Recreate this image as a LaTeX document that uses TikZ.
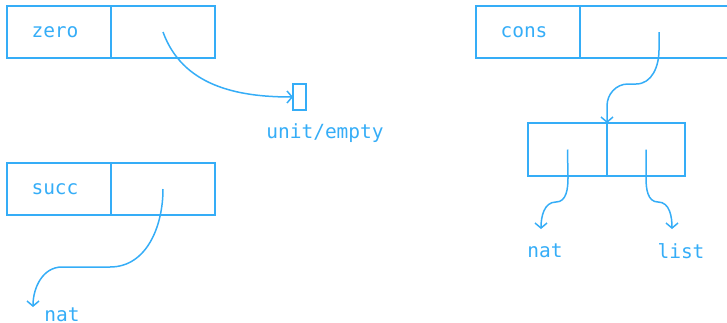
\documentclass[tikz,border=0pt]{standalone}
\usepackage{fontspec}
\setmonofont{DejaVu Sans Mono}
\usetikzlibrary{positioning,arrows.meta}
\definecolor{linkblue}{HTML}{35ADF7}
\tikzset{
  cell/.style={
    draw=linkblue, line width=1.5pt, outer sep=0pt, inner sep=0pt,
    minimum height=52pt, minimum width=104pt,
    text=linkblue, font=\fontsize{19.5}{21}\selectfont\ttfamily
  },
  paircell/.style={cell, minimum width=79pt, minimum height=53pt},
  unitbox/.style={
    draw=linkblue, line width=1.5pt, outer sep=0pt,
    minimum width=13pt, minimum height=26pt
  },
  typelabel/.style={text=linkblue, inner sep=1pt,
    font=\fontsize{19.5}{21}\selectfont\ttfamily},
  link/.style={-{Straight Barb[length=5pt,width=12pt]}, draw=linkblue,
    line width=1.5pt}
}
\begin{document}
\begin{tikzpicture}[x=1pt,y=-1pt]
  \clip (0,0) rectangle (727,322);

  % constructors
  \node[cell, text width=104pt, align=center] (zerotag) at (59,32)
    {\hspace*{-8pt}zero};
  \node[cell, right=0pt of zerotag] (zeroarg) {};
  \node[cell, text width=104pt, align=center] (succtag) at (59,189)
    {\hspace*{-8pt}succ};
  \node[cell, right=0pt of succtag] (succarg) {};
  \node[cell, text width=104pt, align=center] (constag) at (528,32)
    {\hspace*{-8pt}cons};
  \node[cell, minimum width=158pt, right=0pt of constag] (consarg) {};

  % unit and pair
  \node[unitbox] (unit) at (299.5,97) {};
  \node[typelabel] (unitlbl) at (325,133) {unit/empty};
  \node[paircell] (pairfst) at (567.5,149.5) {};
  \node[paircell, minimum width=78pt, right=0pt of pairfst] (pairsnd) {};

  % type names
  \coordinate (succend) at (33,307);
  \node[typelabel] (succnat) at (62,315) {nat};
  \coordinate (fstend) at (541,229);
  \node[typelabel] (fstnat) at (545,251) {nat};
  \coordinate (sndend) at (672,229);
  \node[typelabel] (sndlist) at (681,251) {list};

  \draw[link] (zeroarg.center) to[out=-70,in=180] (unit.west);
  \draw[link] (succarg.center) to[out=-90,in=0] (110,267)
    -- (62,267) to[out=180,in=90] (succend);
  \draw[link] (consarg.center) -- (659,50) to[out=-90,in=0] (636,84)
    -- (628,84) to[out=180,in=90] (607,106) -- (pairfst.north east);
  \draw[link] (pairfst.center) -- (568,178) to[out=-90,in=0] (556,202)
    to[out=180,in=90] (fstend);
  \draw[link] (pairsnd.center) -- (646,178) to[out=-90,in=180] (658,202)
    to[out=0,in=90] (sndend);
\end{tikzpicture}
\end{document}
